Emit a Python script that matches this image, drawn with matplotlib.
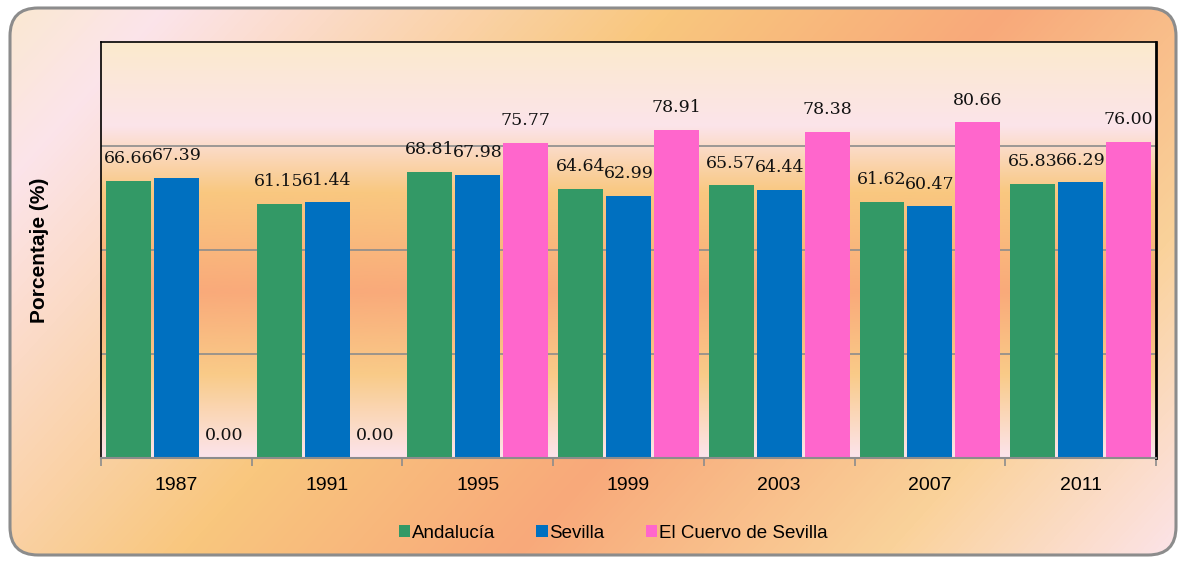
import matplotlib.pyplot as plt
import numpy as np
from matplotlib.colors import LinearSegmentedColormap
from matplotlib.patches import FancyBboxPatch, Patch

years = ['1987', '1991', '1995', '1999', '2003', '2007', '2011']
andalucia = [66.66, 61.15, 68.81, 64.64, 65.57, 61.62, 65.83]
sevilla = [67.39, 61.44, 67.98, 62.99, 64.44, 60.47, 66.29]
cuervo = [0.00, 0.00, 75.77, 78.91, 78.38, 80.66, 76.00]
series_names = ['Andalucía', 'Sevilla', 'El Cuervo de Sevilla']
colores = ['#339966', '#0070C0', '#FF66CC']

W, H = 1186, 561
fig = plt.figure(figsize=(W / 100, H / 100), dpi=100)
fig.patch.set_facecolor('white')

# fondo exterior con degradado diagonal
bg = fig.add_axes([0, 0, 1, 1], zorder=0)
bg.set_xlim(0, W)
bg.set_ylim(H, 0)
bg.axis('off')
xx, yy = np.meshgrid(np.arange(W), np.arange(H))
t = (500 * xx + 450 * yy) / (500 * W + 450 * H)
cmap_bg = LinearSegmentedColormap.from_list('bg', [
    (0.0, '#FAE9CF'), (0.1, '#FCE4EA'), (0.4, '#F9C77E'),
    (0.6, '#F8A97A'), (0.82, '#FAD29A'), (1.0, '#FCE4EC')])
caja = FancyBboxPatch((10, 8), W - 20, H - 14, boxstyle='round,pad=0,rounding_size=28',
                      facecolor='none', edgecolor='#8C8C8C', linewidth=2.2, zorder=3)
bg.add_patch(caja)
im = bg.imshow(t, cmap=cmap_bg, extent=[0, W, H, 0], aspect='auto', zorder=1)
im.set_clip_path(caja)

# area del grafico
ax = fig.add_axes([101 / W, 1 - 458 / H, (1156 - 101) / W, (458 - 42) / H], zorder=2)
n = len(years)
x = np.arange(n)
ax.set_xlim(-0.5, n - 0.5)
ax.set_ylim(0, 100)

cmap_pl = LinearSegmentedColormap.from_list('pl', [
    (0.0, '#FCE4EC'), (0.2, '#F9CB88'), (0.4, '#F9AA7A'),
    (0.64, '#F9C880'), (0.8, '#FCE4EA'), (1.0, '#FBEACD')])
grad = np.linspace(0, 1, 256).reshape(-1, 1)
ax.imshow(grad, cmap=cmap_pl, extent=[-0.5, n - 0.5, 0, 100], aspect='auto',
          origin='lower', zorder=0)

for v in [25, 50, 75]:
    ax.axhline(v, color='#8C8C8C', linewidth=1.2, zorder=1)

bw = 0.298
step = 0.318
for i, (vals, c) in enumerate(zip([andalucia, sevilla, cuervo], colores)):
    pos = x + (i - 1) * step
    ax.bar(pos, vals, width=bw, color=c, zorder=2)
    for p, v in zip(pos, vals):
        ax.text(p, v + 3.3, f'{v:.2f}', ha='center', va='bottom', fontsize=12.5,
                fontfamily='DejaVu Serif', color='#111111', zorder=3)

ax.set_xticks(x)
ax.set_xticklabels(years, fontsize=14, fontfamily='Liberation Sans')
ax.tick_params(axis='x', which='major', length=0, pad=14)
ax.set_xticks(np.arange(-0.5, n, 1), minor=True)
ax.tick_params(axis='x', which='minor', length=6, color='#8C8C8C', width=1.2)
ax.set_yticks([])

for s in ['left', 'top']:
    ax.spines[s].set_color('black')
    ax.spines[s].set_linewidth(1.2)
ax.spines['right'].set_color('black')
ax.spines['right'].set_linewidth(2)
ax.spines['bottom'].set_color('#8C8C8C')
ax.spines['bottom'].set_linewidth(1.5)

fig.text(40 / W, 1 - 250 / H, 'Porcentaje (%)', rotation=90, ha='center', va='center',
         fontsize=15, fontweight='bold', fontfamily='Liberation Sans')

handles = [Patch(facecolor=c, edgecolor='none') for c in colores]
fig.legend(handles, series_names, loc='center', bbox_to_anchor=(0.517, 1 - 533 / H),
           ncol=3, frameon=False, handlelength=0.6, handleheight=0.6,
           handletextpad=0.1, columnspacing=2.2, prop={'family': 'Liberation Sans', 'size': 13.5})

fig.savefig('out.png', dpi=100)
